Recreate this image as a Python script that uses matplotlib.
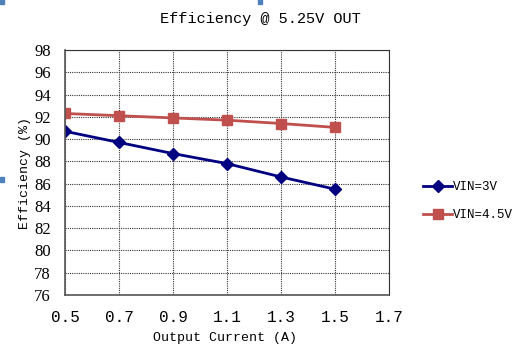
import matplotlib
matplotlib.use('Agg')
import matplotlib.pyplot as plt
from matplotlib.patches import Rectangle

# data
current = [0.5, 0.7, 0.9, 1.1, 1.3, 1.5]
eff_3v = [90.7, 89.7, 88.7, 87.8, 86.6, 85.5]
eff_45v = [92.3, 92.1, 91.9, 91.7, 91.4, 91.05]
xticks = [0.5, 0.7, 0.9, 1.1, 1.3, 1.5, 1.7]
yticks = list(range(76, 99, 2))

mono = 'Liberation Mono'
serif = 'Liberation Serif'

fig = plt.figure(figsize=(5.18, 3.53), dpi=100)
ax = fig.add_axes([65 / 518, 1 - 295 / 353, 324 / 518, 245 / 353])

ax.plot(current, eff_3v, color='#000080', lw=2, marker='D', ms=6.5,
        label='VIN=3V')
ax.plot(current, eff_45v, color='#C0504D', lw=2, marker='s', ms=7.5,
        label='VIN=4.5V')

ax.set_xlim(0.5, 1.7)
ax.set_ylim(76, 98)
ax.set_xticks(xticks)
ax.set_xticklabels([f'{t:.1f}' for t in xticks], fontfamily=mono,
                   fontsize=11.5)
ax.set_yticks(yticks)
ax.set_yticklabels([str(t) for t in yticks], fontfamily=serif, fontsize=12)
ax.tick_params(length=0)
ax.tick_params(axis='y', pad=10)
ax.tick_params(axis='x', pad=11)

ax.grid(True, color='#333333', linestyle=(0, (1, 1)), lw=0.8)
for side in ['top', 'right']:
    ax.spines[side].set_linestyle((0, (1, 1)))
    ax.spines[side].set_color('#333333')
    ax.spines[side].set_linewidth(0.8)
for side in ['left', 'bottom']:
    ax.spines[side].set_color('#555555')
    ax.spines[side].set_linewidth(1.2)

fig.text(260 / 518, 1 - 19 / 353, 'Efficiency @ 5.25V OUT', ha='center',
         va='center', fontfamily=mono, fontsize=11)
fig.text(225 / 518, 1 - 338 / 353, 'Output Current (A)', ha='center',
         va='center', fontfamily=mono, fontsize=9.5)
fig.text(25 / 518, 1 - 173 / 353, 'Efficiency (%)', ha='center',
         va='center', rotation=90, fontfamily=mono, fontsize=9.5)

fig.legend(loc='upper left', bbox_to_anchor=(412 / 518, 1 - 170 / 353),
           frameon=False, prop={'family': mono, 'size': 9},
           handlelength=2.3, handletextpad=0.1, labelspacing=1.25)

# small selection handles at the picture edges
for x, y in [(0, 349), (258, 349), (0, 171)]:
    fig.patches.append(Rectangle((x / 518, y / 353), 4 / 518, 5 / 353,
                                 transform=fig.transFigure,
                                 color='#4F81BD'))

fig.savefig('out.png', dpi=100)
